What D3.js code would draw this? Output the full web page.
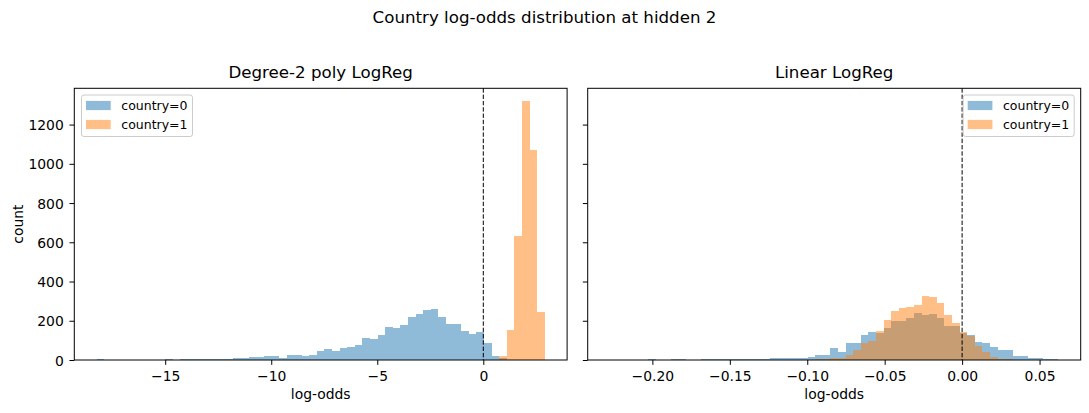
<!DOCTYPE html>
<html><head><meta charset="utf-8">
<script src="https://cdn.jsdelivr.net/npm/d3@7"></script>
<style>
body{margin:0;background:#fff}
svg{display:block}
text{font-family:"DejaVu Sans",sans-serif;fill:#000}
</style>
</head><body><svg id="c" width="1089" height="413"></svg>
<script>
const suptitle = "Country log-odds distribution at hidden 2";
const panelTitles = ["Degree-2 poly LogReg", "Linear LogReg"];
const seriesNames = ["country=0", "country=1"];
const seriesColors = ["#1f77b4", "#ff7f0e"];
const xLabel = "log-odds";
const yLabel = "count";

// histogram bin range (59 equal bins) and counts, panel 1
const polyBinRange = [-18.23, 2.895];
const polyCounts0 = [4,0,0,0,0,0,0,0,0,4, 0,4,4,5,5,5,5,5,12,12, 17,17,22,22,12,27,27,22,27,48, 58,48,63,68,78,114,109,128,166,165, 180,221,237,257,262,221,186,186,150,134, 145,89,22,9,0,0,0,0,0];
const polyCounts1 = [0,0,0,0,0,0,0,0,0,0, 0,0,0,0,0,0,0,0,0,0, 0,0,0,0,0,0,0,0,0,0, 0,0,0,0,0,0,0,0,0,0, 0,0,0,0,0,0,0,0,0,0, 0,0,0,22,155,630,1319,1069,243];
const polyTicks = [-15, -10, -5, 0];

// panel 2
const linBinRange = [-0.2273, 0.0621];
const linCounts0 = [1,0,0,0,0,3,0,0,3,3, 0,0,3,3,3,3,3,3,6,6, 6,12,8,8,8,10,15,26,26,61, 41,87,87,128,143,138,163,199,199,214, 240,230,235,214,174,174,138,128,92,87, 66,51,51,20,20,10,10,5,5];
const linCounts1 = [0,0,0,0,0,0,0,0,0,0, 0,0,0,0,0,0,0,0,0,0, 0,0,0,0,0,0,0,3,7,10, 10,26,51,87,97,148,204,250,265,271, 281,327,322,291,230,189,145,123,71,41, 15,5,5,2,0,0,0,0,0];
const linTicks = [-0.20, -0.15, -0.10, -0.05, 0.00, 0.05];

const yTicks = [0, 200, 400, 600, 800, 1000, 1200];
const refLineX = 0;

const svg = d3.select("#c");
const TKFS = 13.9, LGFS = 12.5, LFS = 13.9, TFS = 16.67;
const axTop = 88.3, axBottom = 360;
const panels = [
  {x0: 74.3, x1: 567.1, range: polyBinRange, counts: [polyCounts0, polyCounts1], ticks: polyTicks, fmt: d3.format("d"), title: panelTitles[0], legend: "left", ylabels: true},
  {x0: 587.7, x1: 1080.7, range: linBinRange, counts: [linCounts0, linCounts1], ticks: linTicks, fmt: d3.format(".2f"), title: panelTitles[1], legend: "right", ylabels: false}
];

const ymax = d3.max([polyCounts0, polyCounts1, linCounts0, linCounts1].flat()) * 1.05;
const ys = d3.scaleLinear().domain([0, ymax]).range([axBottom, axTop]);

svg.append("text").attr("x", 544.5).attr("y", 23).attr("text-anchor", "middle")
  .style("font-size", TFS + "px").text(suptitle);

panels.forEach(p => {
  const [lo, hi] = p.range;
  const span = hi - lo;
  const xs = d3.scaleLinear().domain([lo - 0.05 * span, hi + 0.05 * span]).range([p.x0, p.x1]);
  const g = svg.append("g");
  p.counts.forEach((cs, si) => {
    const n = cs.length;
    const edge = i => lo + span * i / n;
    g.append("g").selectAll("rect").data(cs).join("rect")
      .attr("x", (d, i) => xs(edge(i)))
      .attr("width", (d, i) => xs(edge(i + 1)) - xs(edge(i)))
      .attr("y", d => ys(d))
      .attr("height", d => ys(0) - ys(d))
      .attr("fill", seriesColors[si]).attr("fill-opacity", 0.5)
      .attr("shape-rendering", "crispEdges");
  });
  // reference line
  g.append("line").attr("x1", xs(refLineX)).attr("x2", xs(refLineX))
    .attr("y1", axTop).attr("y2", axBottom)
    .attr("stroke", "#000").attr("stroke-width", 1).attr("stroke-dasharray", "4.4,1.9");

  // x axis
  const xa = g.append("g").attr("transform", `translate(0,${axBottom})`)
    .call(d3.axisBottom(xs).tickValues(p.ticks).tickFormat(p.fmt).tickSize(4.86).tickPadding(4.86));
  xa.select(".domain").remove();
  xa.selectAll(".tick line").attr("stroke", "#000").attr("stroke-width", 1);
  xa.selectAll(".tick text").attr("y", 21).attr("dy", null)
    .style("font-size", TKFS + "px").style("font-family", "DejaVu Sans").attr("fill", "#000");
  // y axis
  const ya = g.append("g").attr("transform", `translate(${p.x0},0)`)
    .call(d3.axisLeft(ys).tickValues(yTicks).tickFormat(p.ylabels ? d3.format("d") : () => "").tickSize(4.86).tickPadding(5.7));
  ya.select(".domain").remove();
  ya.selectAll(".tick line").attr("stroke", "#000").attr("stroke-width", 1);
  ya.selectAll(".tick text").attr("dy", "0.36em")
    .style("font-size", TKFS + "px").style("font-family", "DejaVu Sans").attr("fill", "#000");

  // spines
  g.append("rect").attr("x", p.x0).attr("y", axTop).attr("width", p.x1 - p.x0).attr("height", axBottom - axTop)
    .attr("fill", "none").attr("stroke", "#000").attr("stroke-width", 1);

  // title and x label
  const cx = (p.x0 + p.x1) / 2;
  g.append("text").attr("x", cx).attr("y", 78).attr("text-anchor", "middle")
    .style("font-size", TFS + "px").text(p.title);
  g.append("text").attr("x", cx).attr("y", 399).attr("text-anchor", "middle")
    .style("font-size", LFS + "px").text(xLabel);

  // legend
  const bw = 111, bh = 41.5;
  const bx = p.legend === "left" ? p.x0 + 7.2 : p.x1 - 6.5 - bw;
  const by = 95;
  const lg = g.append("g");
  lg.append("rect").attr("x", bx).attr("y", by).attr("width", bw).attr("height", bh)
    .attr("rx", 2.5).attr("fill", "#fff").attr("fill-opacity", 0.8)
    .attr("stroke", "#cccccc").attr("stroke-width", 1);
  seriesNames.forEach((nm, i) => {
    const rowY = by + 10.5 + i * 19;
    lg.append("rect").attr("x", bx + 4.5).attr("y", rowY - 4.6).attr("width", 24.7).attr("height", 9.2)
      .attr("fill", seriesColors[i]).attr("fill-opacity", 0.5);
    lg.append("text").attr("x", bx + 39.8).attr("y", rowY + 4.3)
      .style("font-size", LGFS + "px").text(nm);
  });
});

// y label
svg.append("text").attr("transform", `translate(23,${(axTop + axBottom) / 2}) rotate(-90)`)
  .attr("text-anchor", "middle").style("font-size", LFS + "px").text(yLabel);
</script>
</body></html>
